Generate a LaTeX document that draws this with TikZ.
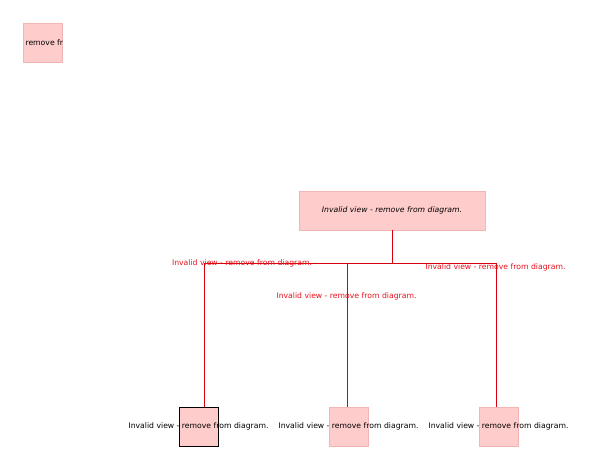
\documentclass[tikz,border=0pt]{standalone}
\usepackage{fontspec}
\setmainfont{DejaVu Sans}
\definecolor{viewpink}{HTML}{FFCCCC}
\definecolor{viewedge}{HTML}{F2B5B5}
\definecolor{linkred}{HTML}{D8000C}
\definecolor{labelred}{HTML}{E8101A}
\newcommand{\bad}{Invalid view - remove from diagram.}

\begin{document}
\begin{tikzpicture}[x=1pt,y=-1pt]
                        \tikzstyle{viewbox}=[draw=viewedge,fill=viewpink,minimum width=39pt,minimum height=39pt,inner sep=0pt]
                        \tikzstyle{txt}=[font=\fontsize{7.7}{9}\selectfont,inner sep=0pt]
                        \tikzstyle{lbl}=[txt,text=labelred]
                        \tikzstyle{link}=[draw=linkred,line width=0.9pt]
                        \useasboundingbox (0,0) rectangle (590,457);
                        % lone view
                        \node[viewbox] (lone) at (42.5,42.5) {};
                        \node[txt,anchor=west] (lonetxt) at ([xshift=2.5pt]lone.west) {remove fr};
                        % parent
                        \node[viewbox,minimum width=186pt] (top) at (392,210.5) {};
                        \node[txt,font=\fontsize{7.7}{9}\selectfont\itshape] (toptxt) at (top.center) {\bad};
                        % children
                        \node[viewbox,draw=black] (c1) at (198.5,426.5) {};
                        \node[viewbox] (c2) at (348.5,426.5) {};
                        \node[viewbox] (c3) at (498.5,426.5) {};
                        \node[txt] (c1txt) at (c1.center) {\bad};
                        \node[txt] (c2txt) at (c2.center) {\bad};
                        \node[txt] (c3txt) at (c3.center) {\bad};
                        % bus
                        \coordinate (hub) at (392,263);
                        \coordinate (b1) at (204,263);
                        \coordinate (b2) at (347.5,263);
                        \coordinate (b3) at (496.5,263);
                        \draw[link] (top.south) -- (hub);
                        \draw[link] (b1) -- (b3);
                        \draw[link] (b1) -- (b1 |- c1.north);
                        \draw[link] (b2) -- (b2 |- c2.north);
                        \draw[link] (b3) -- (b3 |- c3.north);
                        % link labels
                        \node[lbl] (l1) at (242,263) {\bad};
                        \node[lbl] (l2) at (346.5,296) {\bad};
                        \node[lbl] (l3) at (495.5,267) {\bad};
                    \end{tikzpicture}
\end{document}
